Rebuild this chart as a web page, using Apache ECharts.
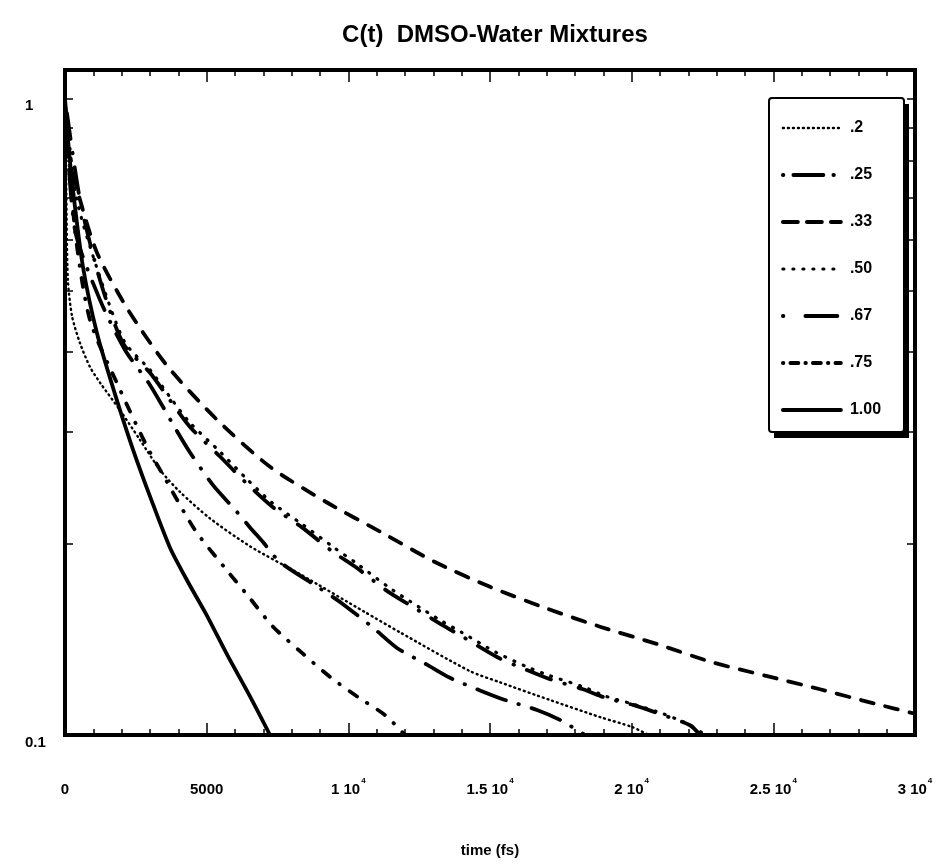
<!DOCTYPE html>
<html>
<head>
<meta charset="utf-8">
<script src="https://cdn.jsdelivr.net/npm/echarts@6/dist/echarts.min.js"></script>
<style>html,body{margin:0;padding:0;background:#fff}#c{width:946px;height:867px}</style>
</head>
<body>
<div id="c"></div>
<script>
// ---- data (time in fs, C(t)) ----
const seriesNames = ['.2', '.25', '.33', '.50', '.67', '.75', '1.00'];

const s020 = [[0,1.0],[40,0.75],[100,0.52],[250,0.455],[530,0.413],[880,0.379],[1235,0.358],[1941,0.324],[2647,0.291],[3353,0.261],[4059,0.241],[5118,0.219],[6529,0.198],[8294,0.179],[10588,0.156],[11824,0.145],[14294,0.126],[15353,0.121],[17118,0.1135],[18882,0.1067],[20000,0.103],[20600,0.1]];
const s025 = [[0,1.0],[529,0.694],[1235,0.519],[2047,0.413],[3000,0.371],[3706,0.336],[4412,0.305],[5471,0.274],[6353,0.250],[7341,0.228],[8365,0.212],[9459,0.194],[10306,0.183],[11400,0.168],[12176,0.160],[13306,0.149],[14047,0.1426],[15247,0.1326],[16306,0.1265],[17118,0.1224],[18282,0.118],[19129,0.1142],[20047,0.1115],[21106,0.1075],[22059,0.1036],[22412,0.1]];
const s033 = [[0,1.0],[106,0.832],[529,0.694],[1129,0.573],[2224,0.466],[3635,0.379],[5365,0.313],[7235,0.264],[9247,0.232],[11188,0.208],[13059,0.187],[15000,0.171],[17012,0.158],[18882,0.148],[20894,0.139],[22871,0.130],[24706,0.124],[26647,0.118],[28588,0.112],[30000,0.108]];
const s050 = [[0,1.0],[400,0.70],[1200,0.53],[2100,0.415],[3000,0.375],[3700,0.34],[4400,0.31],[5500,0.278],[6400,0.253],[7300,0.232],[8400,0.214],[9500,0.197],[10300,0.186],[11400,0.171],[12200,0.162],[13300,0.151],[14000,0.145],[15200,0.135],[16300,0.128],[17100,0.124],[18300,0.119],[19100,0.115],[20000,0.112],[21100,0.108],[22000,0.104],[22600,0.1]];
const s067 = [[0,1.0],[353,0.622],[1235,0.483],[2118,0.403],[3000,0.355],[3882,0.304],[4412,0.278],[5224,0.247],[6000,0.226],[6529,0.212],[6988,0.201],[7588,0.187],[9000,0.170],[9776,0.161],[10871,0.1475],[11718,0.137],[12776,0.129],[13588,0.123],[14647,0.1175],[15529,0.1135],[16659,0.1095],[17471,0.1056],[18353,0.1]];
const s075 = [[0,1.0],[353,0.622],[882,0.449],[1941,0.349],[2894,0.284],[3424,0.258],[4588,0.210],[5647,0.183],[6529,0.164],[7341,0.148],[8365,0.1346],[9353,0.1234],[10341,0.1147],[11294,0.1075],[12000,0.1]];
const s100 = [[0,1.0],[106,0.862],[282,0.719],[635,0.544],[1129,0.428],[1750,0.345],[2400,0.281],[3050,0.234],[3706,0.197],[4340,0.174],[4976,0.155],[5750,0.133],[6529,0.115],[7235,0.1]];

// ---- axis ticks / labels ----
const xTickValues = [0, 5000, 10000, 15000, 20000, 25000, 30000];
const xTickLabels = [['0',''],['5000',''],['1 10','4'],['1.5 10','4'],['2 10','4'],['2.5 10','4'],['3 10','4']];
const yLabelValues = [0.1, 1];
const yLabelTexts = ['0.1', '1'];
const yTickValues = [0.1, 0.2, 0.3, 0.4, 0.5, 0.6, 0.7, 0.8, 0.9, 1];

const FONT = 'Liberation Sans, Arial, sans-serif';
const dataSets = [s020, s025, s033, s050, s067, s075, s100];
const dashes = [[1,4],[0.5,14,26,14],[13,12],[1,9],[0.5,13,31,13],[0.5,12,9,12],'solid'];
const legendDashes = [[1,4],[0.5,10,30,10],[15,9],[1,9],[0.5,22,32,10],[0.5,7,8,7],'solid'];
const widths = [2.4, 3.8, 3.8, 3.2, 3.8, 3.8, 3.8];

const chart = echarts.init(document.getElementById('c'), null, {renderer: 'canvas'});

function xLabel(v) {
  const i = xTickValues.indexOf(v);
  if (i < 0) return '';
  const [m, e] = xTickLabels[i];
  return e ? '{m|' + m + '}{e|' + e + '}' : '{m|' + m + '}';
}
function yLabel(v) {
  let best = 0;
  for (let i = 0; i < yLabelValues.length; i++) if (Math.abs(yLabelValues[i] - v) < Math.abs(yLabelValues[best] - v)) best = i;
  return yLabelTexts[best];
}

const xAxisBase = {
  type: 'value', min: 0, max: 30000, interval: 5000,
  axisLine: {show: true, onZero: false, lineStyle: {color: '#000', width: 4}},
  axisTick: {show: true, inside: true, length: 12, lineStyle: {color: '#000', width: 1.5}},
  minorTick: {show: true, splitNumber: 5, length: 6, lineStyle: {color: '#000', width: 1.5}},
  splitLine: {show: false}
};
const yAxisBase = {
  type: 'log', logBase: 10, min: 0.1, max: 1.11,
  axisLine: {show: true, onZero: false, lineStyle: {color: '#000', width: 4}},
  axisTick: {show: true, inside: true, length: 8, customValues: yTickValues, lineStyle: {color: '#000', width: 1.5}},
  splitLine: {show: false}
};

const option = {
  backgroundColor: '#fff',
  animation: false,
  title: {
    text: 'C(t)  DMSO-Water Mixtures',
    left: 490, textAlign: 'center', top: 18,
    textStyle: {fontFamily: FONT, fontSize: 24, fontWeight: 'bold', color: '#000'}
  },
  grid: {left: 65, right: 31, top: 70, bottom: 132, show: true, borderColor: '#000', borderWidth: 4, backgroundColor: '#fff'},
  graphic: [
    {type: 'rect', z: 3, shape: {x: 774, y: 104, width: 135, height: 334}, style: {fill: '#000'}},
    {type: 'rect', z: 3, shape: {x: 769, y: 98, width: 135, height: 334, r: 3}, style: {fill: '#fff', stroke: '#000', lineWidth: 2}}
  ],
  legend: {
    orient: 'vertical', left: 769, top: 98, z: 5,
    padding: [22, 16, 26, 12],
    itemGap: 31, itemWidth: 58, itemHeight: 14,
    itemStyle: {color: 'rgba(0,0,0,0)', borderWidth: 0, opacity: 0},
    textStyle: {fontFamily: FONT, fontSize: 16, fontWeight: 'bold', color: '#000', padding: [0, 0, 0, 4]},
    data: seriesNames.map((n, i) => ({
      name: n,
      lineStyle: {color: '#000', width: widths[i], type: legendDashes[i], cap: 'round'}
    }))
  },
  xAxis: [Object.assign({}, xAxisBase, {
    position: 'bottom',
    name: 'time (fs)', nameLocation: 'middle', nameGap: 108,
    nameTextStyle: {fontFamily: FONT, fontSize: 15, fontWeight: 'bold', color: '#000'},
    axisLabel: {margin: 42, formatter: xLabel, color: '#000',
      rich: {
        m: {fontFamily: FONT, fontSize: 15, fontWeight: 'bold', color: '#000', lineHeight: 20, verticalAlign: 'bottom'},
        e: {fontFamily: FONT, fontSize: 8, fontWeight: 'bold', color: '#000', lineHeight: 20, verticalAlign: 'top', padding: [0,0,0,1]}
      }}
  }), Object.assign({}, xAxisBase, {position: 'top', axisLabel: {show: false}})],
  yAxis: [Object.assign({}, yAxisBase, {
    position: 'left',
    axisLabel: {customValues: yLabelValues, formatter: yLabel, align: 'left', margin: 40, verticalAlign: 'top',
      fontFamily: FONT, fontSize: 15, fontWeight: 'bold', color: '#000'}
  }), Object.assign({}, yAxisBase, {position: 'right', axisLabel: {show: false}})],
  series: seriesNames.map((name, i) => ({
    name: name, type: 'line', data: dataSets[i],
    xAxisIndex: 0, yAxisIndex: 0,
    showSymbol: false, symbol: 'none', smooth: 0.25, clip: true,
    lineStyle: {color: '#000', width: widths[i], type: dashes[i], cap: 'round', join: 'round'},
    itemStyle: {color: '#000'}
  }))
};
chart.setOption(option);
</script>
</body>
</html>
